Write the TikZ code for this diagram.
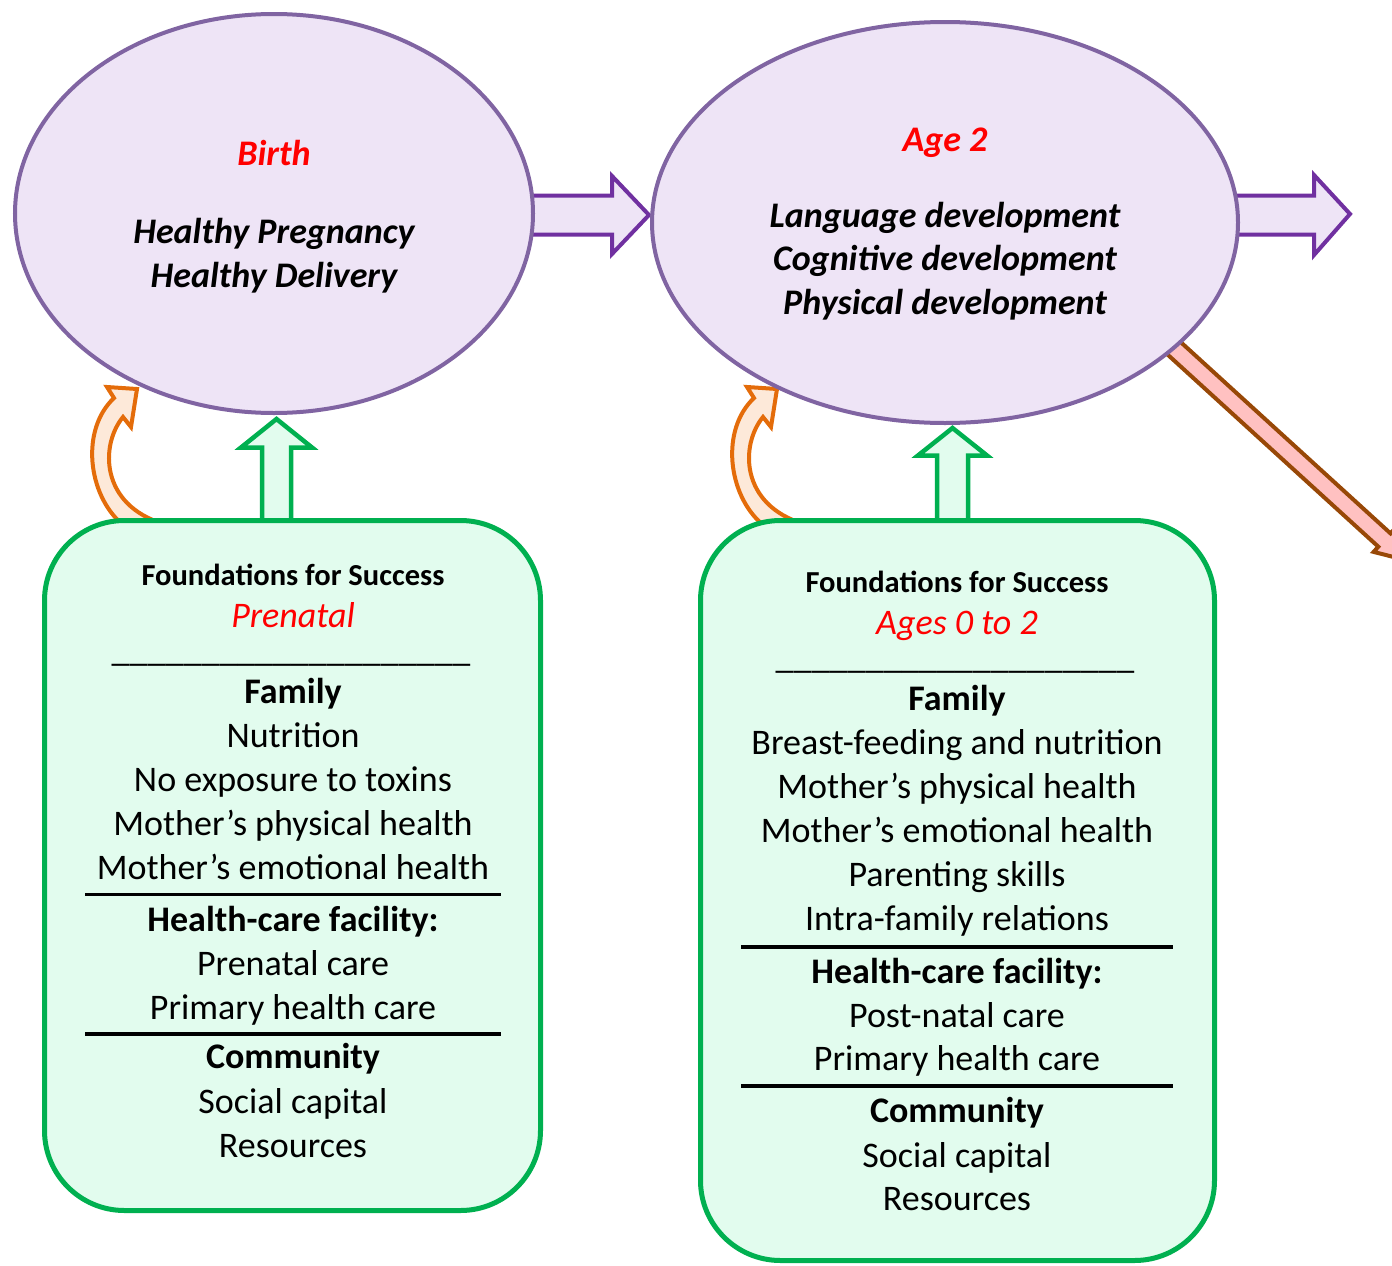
\documentclass[tikz,border=0pt]{standalone}
\usepackage{fontspec}
\setmainfont{Carlito}
\usetikzlibrary{shapes.geometric}

\definecolor{lav}{HTML}{EEE4F6}
\definecolor{lavedge}{HTML}{8064A2}
\definecolor{purp}{HTML}{7030A0}
\definecolor{mint}{HTML}{E2FCEE}
\definecolor{grn}{HTML}{00B050}
\definecolor{peach}{HTML}{FDE9D9}
\definecolor{orng}{HTML}{E46C0A}
\definecolor{pinkfill}{HTML}{FFC1C1}
\definecolor{brwn}{HTML}{984807}
\definecolor{redtxt}{HTML}{FF0000}

\begin{document}
\begin{tikzpicture}[x=1pt,y=-1pt,
  stage/.style={ellipse, draw=lavedge, fill=lav, line width=4pt, inner sep=0pt},
  basebox/.style={rectangle, rounded corners=80pt, draw=grn, fill=mint, line width=5pt, inner sep=0pt},
  flowarrow/.style={draw=purp, fill=lav, line width=4pt, line join=miter},
  liftarrow/.style={draw=grn, fill=mint, line width=4.5pt, line join=miter},
  loopback/.style={draw=orng, fill=peach, line width=4pt, line join=miter},
  outarrow/.style={draw=brwn, fill=pinkfill, line width=4pt, line join=miter},
  txt/.style={anchor=base, inner sep=0pt, font=\fontsize{36}{44}\selectfont},
  rulerow/.style={txt, text height=1pt, text depth=4pt},
  head/.style={txt, font=\fontsize{36}{44}\selectfont\bfseries},
  stagetxt/.style={txt, font=\fontsize{36}{44}\selectfont\bfseries\itshape},
  stagetitle/.style={stagetxt, text=redtxt},
  boxtitle/.style={txt, font=\fontsize{30.5}{36}\selectfont\bfseries},
  period/.style={txt, font=\fontsize{36}{44}\selectfont\itshape, text=redtxt},
  divider/.style={line width=3.5pt, black},
]
\clip (0,0) rectangle (1392,1266);

% ---- block arrows (drawn first, shapes sit on top) ----
% stage to stage
\draw[flowarrow] (505,195.5) -- (612,195.5) -- (612,176) -- (649,215)
  -- (612,254) -- (612,234.5) -- (505,234.5) -- cycle;
% onward from the second stage
\draw[flowarrow] (1225,195.5) -- (1314,195.5) -- (1314,175) -- (1350,214)
  -- (1314,255) -- (1314,234.5) -- (1225,234.5) -- cycle;
% diagonal arrow leaving the second stage
\draw[outarrow] (1167.3,329.9) -- (1390.5,533.4) -- (1395.2,528.3) -- (1406.6,560.3)
  -- (1373.6,551.9) -- (1378.3,546.7) -- (1155.1,343.2) -- cycle;

% upward arrows from the foundations boxes
\draw[liftarrow] (262,530) -- (262,447.5) -- (241,447.5) -- (276.5,419)
  -- (312,447.5) -- (291,447.5) -- (291,530) -- cycle;
\draw[liftarrow] (937,530) -- (937,455.5) -- (918,455.5) -- (952.5,428)
  -- (987,455.5) -- (968,455.5) -- (968,530) -- cycle;

% curved feedback arrows
\foreach \dx in {0pt,640pt}{
  \begin{scope}[xshift=\dx]
    \draw[loopback] (122,524) .. controls (88,495) and (80,430) .. (114,398)
      -- (107,387) -- (137,389) -- (131,427) -- (123,417)
      .. controls (100,445) and (100,505) .. (164,524) -- cycle;
  \end{scope}
}

% ---- foundations boxes ----
\node[basebox, minimum width=496pt, minimum height=690pt] (box1) at (292.5,865.5) {};
\node[basebox, minimum width=514pt, minimum height=740pt] (box2) at (957.5,890.5) {};

% ---- stages ----
\node[stage, minimum width=518pt, minimum height=399pt] (e1) at (274,213.5) {};
\node[stage, minimum width=586pt, minimum height=401pt] (e2) at (945,222.5) {};

% stage texts
\node[stagetitle] (e1t) at (274,165) {Birth};
\node[stagetxt] (e1a) at (274,243) {Healthy Pregnancy};
\node[stagetxt] (e1b) at (274,287) {Healthy Delivery};

\node[stagetitle] (e2t) at (945,151) {Age 2};
\node[stagetxt] (e2a) at (945,227) {Language development};
\node[stagetxt] (e2b) at (945,270.5) {Cognitive development};
\node[stagetxt] (e2c) at (945,314) {Physical development};

% ---- box 1 contents ----
\node[boxtitle] (b1t) at (293,585) {Foundations for Success};
\node[period] (b1p) at (293,627) {Prenatal};
\node[rulerow] (b1u) at (291,661) {\_\_\_\_\_\_\_\_\_\_\_\_\_\_\_\_\_\_\_\_};
\node[head] (b1f) at (293,703) {Family};
\node[txt] (b1f1) at (293,747) {Nutrition};
\node[txt] (b1f2) at (293,791) {No exposure to toxins};
\node[txt] (b1f3) at (293,835) {Mother’s physical health};
\node[txt] (b1f4) at (293,879) {Mother’s emotional health};
\draw[divider] (85,894.5) -- (501,894.5);
\node[head] (b1h) at (293,931) {Health-care facility:};
\node[txt] (b1h1) at (293,975) {Prenatal care};
\node[txt] (b1h2) at (293,1019) {Primary health care};
\draw[divider] (85,1034) -- (501,1034);
\node[head] (b1c) at (293,1068) {Community};
\node[txt] (b1c1) at (293,1113) {Social capital};
\node[txt] (b1c2) at (293,1157) {Resources};

% ---- box 2 contents ----
\node[boxtitle] (b2t) at (957,592) {Foundations for Success};
\node[period] (b2p) at (957,634) {Ages 0 to 2};
\node[rulerow] (b2u) at (955,668) {\_\_\_\_\_\_\_\_\_\_\_\_\_\_\_\_\_\_\_\_};
\node[head] (b2f) at (957,710) {Family};
\node[txt] (b2f1) at (957,754) {Breast-feeding and nutrition};
\node[txt] (b2f2) at (957,798) {Mother’s physical health};
\node[txt] (b2f3) at (957,842) {Mother’s emotional health};
\node[txt] (b2f4) at (957,886) {Parenting skills};
\node[txt] (b2f5) at (957,930) {Intra-family relations};
\draw[divider] (741,947) -- (1173,947);
\node[head] (b2h) at (957,983) {Health-care facility:};
\node[txt] (b2h1) at (957,1027) {Post-natal care};
\node[txt] (b2h2) at (957,1070) {Primary health care};
\draw[divider] (741,1086) -- (1173,1086);
\node[head] (b2c) at (957,1122) {Community};
\node[txt] (b2c1) at (957,1167) {Social capital};
\node[txt] (b2c2) at (957,1210) {Resources};
\end{tikzpicture}
\end{document}
